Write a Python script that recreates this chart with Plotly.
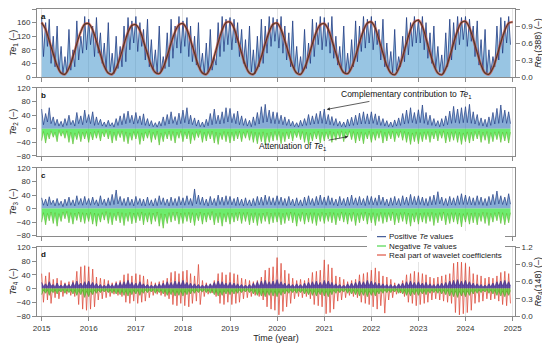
import pandas as pd
import plotly.graph_objects as go

# ---------------- data (half-monthly samples, 24 per year, 2015-2024) ----------------
te1_pos = [
    175,60,160,90,170,40,120,30,150,20,90,10,60,15,140,20,80,30,165,50,120,70,178,80,      # 2015
    170,95,150,60,175,70,130,40,100,20,160,15,70,10,120,25,90,30,150,45,175,80,165,100,    # 2016
    178,75,160,90,140,50,170,30,110,20,80,12,150,15,60,25,130,30,170,55,150,85,178,70,     # 2017
    165,90,175,60,150,45,120,35,160,20,70,10,100,15,140,20,60,35,160,60,178,75,170,95,     # 2018
    175,80,170,100,160,60,140,40,110,25,150,15,80,10,120,30,170,40,150,70,178,90,175,105,  # 2019
    170,85,178,70,150,50,130,30,165,20,90,12,60,15,140,25,100,40,170,60,160,95,178,80,     # 2020
    175,90,160,70,178,55,120,35,90,20,150,10,70,15,110,30,165,45,150,75,178,85,170,100,    # 2021
    178,80,165,95,140,50,170,30,100,20,75,12,140,18,60,30,120,45,175,65,160,90,178,100,    # 2022
    170,100,178,80,160,55,130,40,150,25,90,15,65,10,130,30,170,50,160,80,178,95,175,110,   # 2023
    178,90,170,105,150,60,165,35,110,20,140,12,80,15,60,30,150,50,175,70,165,100,178,95,   # 2024
]

# monthly real part of wavelet coefficients Re1(388), Jan 2015 .. Jan 2025
re1 = [
    0.96,0.84,0.64,0.41,0.20,0.07,0.05,0.16,0.36,0.59,0.80,0.93,
    0.94,0.83,0.63,0.40,0.19,0.07,0.05,0.16,0.35,0.58,0.79,0.91,
    0.92,0.82,0.63,0.41,0.20,0.08,0.06,0.17,0.37,0.60,0.80,0.92,
    0.94,0.84,0.65,0.42,0.20,0.07,0.05,0.16,0.37,0.61,0.83,0.96,
    0.97,0.86,0.66,0.42,0.20,0.07,0.05,0.16,0.36,0.59,0.80,0.93,
    0.95,0.84,0.64,0.41,0.20,0.07,0.05,0.16,0.36,0.59,0.80,0.92,
    0.94,0.84,0.65,0.42,0.21,0.08,0.06,0.17,0.37,0.61,0.82,0.95,
    0.97,0.86,0.66,0.42,0.20,0.07,0.04,0.15,0.36,0.60,0.83,0.97,
    1.00,0.89,0.68,0.43,0.21,0.07,0.04,0.15,0.36,0.60,0.82,0.96,
    0.98,0.87,0.67,0.43,0.21,0.07,0.05,0.16,0.37,0.61,0.82,0.95,
    0.97,
]

te2_pos = [
    58,12,45,20,62,15,35,10,28,8,22,6,30,10,40,12,25,8,48,15,38,12,55,18,
    42,15,50,10,35,12,28,8,20,6,25,8,18,5,30,10,38,12,45,15,52,18,40,14,
    48,16,38,12,44,10,30,8,24,6,18,5,22,8,35,10,42,14,50,16,36,12,46,15,
    55,18,62,14,40,12,32,8,26,6,20,5,28,9,45,12,58,15,40,14,50,16,62,20,
    60,18,45,15,52,12,38,10,30,8,25,6,35,10,48,14,65,18,72,20,55,16,50,15,
    48,15,40,12,35,10,28,8,22,6,18,5,25,8,30,10,42,12,38,14,45,15,52,16,
    58,14,42,12,36,10,30,8,22,6,20,5,28,8,34,10,40,12,46,14,50,15,44,14,
    50,16,44,12,38,10,30,8,24,6,20,5,26,8,32,10,45,14,55,16,62,18,48,15,
    56,18,70,16,48,12,40,10,30,8,24,6,30,8,38,12,52,16,66,18,58,16,62,18,
    65,18,72,16,50,14,42,10,32,8,28,6,35,10,48,14,60,16,70,18,55,16,50,15,
]
te2_neg = [
    -35,-8,-42,-12,-30,-6,-25,-10,-38,-5,-22,-8,-28,-6,-40,-10,-45,-12,-32,-8,-38,-10,-30,-8,
    -40,-10,-33,-8,-28,-6,-36,-9,-24,-5,-30,-7,-42,-10,-35,-8,-26,-6,-38,-9,-44,-12,-34,-8,
    -30,-8,-46,-12,-36,-9,-28,-6,-40,-10,-32,-7,-48,-12,-38,-9,-30,-7,-35,-8,-42,-10,-28,-6,
    -38,-9,-30,-7,-44,-11,-34,-8,-26,-6,-40,-10,-36,-8,-30,-7,-42,-10,-46,-12,-32,-8,-38,-9,
    -42,-10,-36,-8,-30,-7,-38,-9,-28,-6,-34,-8,-40,-10,-44,-11,-38,-9,-48,-12,-40,-10,-36,-8,
    -34,-8,-44,-11,-38,-9,-30,-7,-36,-8,-26,-6,-32,-8,-40,-10,-46,-12,-36,-9,-30,-7,-42,-10,
    -36,-9,-30,-7,-40,-10,-34,-8,-28,-6,-38,-9,-24,-6,-32,-8,-42,-10,-36,-9,-44,-11,-30,-7,
    -40,-10,-34,-8,-28,-6,-42,-10,-36,-8,-30,-7,-38,-9,-26,-6,-34,-8,-40,-10,-46,-12,-38,-9,
    -44,-11,-38,-9,-32,-8,-40,-10,-30,-7,-36,-8,-28,-6,-42,-10,-38,-9,-34,-8,-40,-10,-46,-12,
    -38,-9,-42,-10,-36,-8,-30,-7,-40,-10,-34,-8,-44,-11,-38,-9,-32,-8,-40,-10,-36,-9,-42,-10,
]

te3_pos = [
    32,10,28,8,35,12,25,8,30,10,22,6,28,9,34,10,26,8,38,12,30,10,36,12,
    30,10,34,12,26,8,38,12,28,9,32,10,42,12,55,14,36,10,30,9,34,10,28,8,
    36,12,30,9,28,8,34,10,26,8,30,9,38,12,32,10,28,8,34,10,30,9,36,11,
    32,10,38,12,30,9,58,14,40,12,34,10,28,8,36,11,30,9,40,12,34,10,38,12,
    36,11,30,9,34,10,28,8,32,10,26,8,30,9,36,11,34,10,40,12,36,11,32,10,
    38,12,34,10,30,9,36,11,28,8,32,10,26,8,34,10,38,12,30,9,36,11,40,12,
    34,10,38,12,32,10,28,8,36,11,30,9,34,10,40,12,32,10,36,11,30,9,38,12,
    36,11,32,10,40,12,34,10,28,8,32,10,36,11,30,9,38,12,34,10,42,12,36,11,
    38,12,34,10,30,9,36,11,40,12,50,14,34,10,30,9,36,11,32,10,38,12,44,12,
    40,12,36,11,32,10,38,12,34,10,30,9,36,11,42,12,52,14,38,12,34,10,44,13,
]
te3_neg = [
    -40,-12,-48,-14,-36,-10,-44,-12,-52,-15,-38,-10,-30,-8,-42,-12,-46,-13,-35,-10,-40,-12,-44,-13,
    -38,-11,-46,-13,-52,-15,-40,-12,-34,-9,-44,-12,-48,-14,-36,-10,-42,-12,-50,-14,-38,-11,-45,-13,
    -42,-12,-36,-10,-48,-14,-40,-12,-46,-13,-38,-10,-52,-15,-58,-16,-44,-12,-40,-11,-36,-10,-46,-13,
    -44,-12,-38,-11,-42,-12,-50,-14,-36,-10,-46,-13,-40,-12,-34,-9,-48,-14,-42,-12,-52,-15,-40,-12,
    -46,-13,-40,-12,-36,-10,-44,-12,-38,-11,-48,-14,-42,-12,-50,-14,-44,-13,-38,-11,-46,-13,-42,-12,
    -40,-12,-48,-14,-44,-12,-36,-10,-42,-12,-52,-15,-38,-11,-46,-13,-40,-12,-44,-12,-50,-14,-38,-11,
    -44,-13,-38,-11,-42,-12,-48,-14,-36,-10,-40,-12,-46,-13,-38,-11,-50,-14,-42,-12,-36,-10,-46,-13,
    -42,-12,-50,-14,-38,-11,-44,-12,-40,-12,-36,-10,-48,-14,-42,-12,-38,-11,-46,-13,-52,-15,-40,-12,
    -46,-13,-40,-12,-44,-12,-38,-11,-50,-14,-42,-12,-36,-10,-48,-14,-44,-12,-40,-12,-46,-13,-54,-15,
    -40,-12,-46,-13,-42,-12,-48,-14,-38,-11,-44,-12,-50,-14,-40,-12,-36,-10,-44,-12,-48,-14,-42,-12,
]

te4_pos = [
    18,6,14,5,20,7,12,4,16,5,10,4,14,5,12,4,18,6,22,7,16,6,20,7,
    22,7,18,6,15,5,12,4,10,4,14,5,12,4,16,5,18,6,20,7,24,8,18,6,
    16,5,20,7,14,5,12,4,10,4,12,4,14,5,16,5,20,6,18,6,22,7,20,7,
    24,8,18,6,16,5,14,5,12,4,10,4,12,4,14,5,18,6,22,7,20,7,16,5,
    18,6,16,5,14,5,12,4,10,4,12,4,16,5,20,6,22,7,24,8,20,7,22,7,
    26,8,20,7,16,5,14,5,12,4,14,5,12,4,16,5,18,6,20,7,22,7,18,6,
    24,8,22,7,18,6,14,5,12,4,10,4,14,5,16,5,18,6,22,7,20,7,24,8,
    22,7,18,6,16,5,14,5,12,4,12,4,10,4,14,5,16,5,20,7,22,7,18,6,
    20,7,16,5,18,6,14,5,12,4,14,5,16,5,18,6,22,7,24,8,26,8,22,7,
    24,8,20,7,16,5,14,5,12,4,10,4,14,5,16,5,20,7,22,7,24,8,20,7,
]
te4_neg = [
    -18,-5,-14,-4,-20,-6,-12,-4,-16,-5,-10,-3,-14,-4,-12,-4,-16,-5,-20,-6,-18,-5,-26,-8,
    -24,-7,-18,-5,-14,-4,-12,-4,-10,-3,-12,-4,-14,-4,-16,-5,-18,-5,-20,-6,-22,-7,-18,-5,
    -16,-5,-20,-6,-14,-4,-12,-4,-10,-3,-14,-4,-12,-4,-16,-5,-20,-6,-18,-5,-22,-7,-20,-6,
    -22,-7,-18,-5,-16,-5,-14,-4,-12,-4,-10,-3,-12,-4,-14,-4,-18,-5,-22,-7,-20,-6,-16,-5,
    -18,-5,-16,-5,-14,-4,-12,-4,-10,-3,-12,-4,-16,-5,-20,-6,-22,-7,-24,-7,-20,-6,-22,-7,
    -24,-7,-20,-6,-16,-5,-14,-4,-12,-4,-14,-4,-12,-4,-16,-5,-18,-5,-20,-6,-22,-7,-18,-5,
    -22,-7,-24,-7,-18,-5,-14,-4,-12,-4,-10,-3,-14,-4,-16,-5,-18,-5,-22,-7,-20,-6,-24,-7,
    -20,-6,-22,-7,-16,-5,-14,-4,-12,-4,-12,-4,-10,-3,-14,-4,-16,-5,-20,-6,-22,-7,-18,-5,
    -20,-6,-16,-5,-18,-5,-14,-4,-12,-4,-14,-4,-16,-5,-18,-5,-22,-7,-24,-7,-26,-8,-22,-7,
    -24,-7,-20,-6,-16,-5,-14,-4,-12,-4,-10,-3,-14,-4,-16,-5,-20,-6,-22,-7,-24,-7,-20,-6,
]

# real part of wavelet coefficients Re4(148), half-monthly
re4 = [
    0.74,0.24,0.70,0.28,0.76,0.22,0.64,0.32,0.66,0.30,0.62,0.34,0.58,0.38,0.60,0.36,0.62,0.34,0.78,0.20,0.86,0.12,0.88,0.10,
    0.86,0.12,0.82,0.16,0.68,0.28,0.66,0.30,0.64,0.32,0.62,0.34,0.58,0.38,0.60,0.36,0.62,0.34,0.72,0.24,0.74,0.22,0.70,0.26,
    0.74,0.22,0.72,0.24,0.70,0.26,0.64,0.32,0.60,0.36,0.58,0.38,0.60,0.36,0.62,0.34,0.66,0.30,0.76,0.20,0.78,0.18,0.74,0.22,
    0.78,0.18,0.80,0.16,0.74,0.22,0.70,0.26,0.90,0.20,0.62,0.34,0.58,0.38,0.56,0.40,0.62,0.34,0.74,0.22,0.76,0.20,0.72,0.24,
    0.76,0.20,0.74,0.22,0.72,0.24,0.66,0.30,0.64,0.32,0.62,0.34,0.60,0.36,0.62,0.34,0.68,0.28,0.80,0.16,0.84,0.12,0.86,0.10,
    1.02,0.02,0.92,0.08,0.80,0.16,0.74,0.22,0.66,0.30,0.62,0.34,0.64,0.32,0.62,0.34,0.66,0.30,0.76,0.20,0.78,0.18,0.80,0.16,
    0.98,0.04,0.90,0.06,0.84,0.12,0.70,0.26,0.68,0.28,0.64,0.32,0.60,0.36,0.62,0.34,0.64,0.32,0.72,0.24,0.74,0.22,0.76,0.20,
    0.80,0.16,0.84,0.12,0.78,0.18,0.70,0.05,0.68,0.28,0.64,0.32,0.58,0.38,0.56,0.40,0.62,0.34,0.72,0.24,0.74,0.22,0.78,0.18,
    0.76,0.20,0.74,0.22,0.72,0.24,0.68,0.28,0.66,0.30,0.68,0.28,0.70,0.26,0.72,0.24,0.74,0.22,0.92,0.06,0.96,0.02,0.94,0.04,
    0.92,0.06,0.86,0.10,0.74,0.22,0.72,0.24,0.70,0.26,0.66,0.30,0.68,0.28,0.66,0.30,0.70,0.26,0.76,0.20,0.78,0.18,0.74,0.22,
]

years = list(range(2015, 2026))
year_labels = [str(y) for y in years]
legend_labels = ["Positive <i>Te</i> values", "Negative <i>Te</i> values",
                 "Real part of wavelet coefficients"]

# ---------------- figure ----------------
half_month = pd.date_range("2015-01-01", periods=len(te1_pos), freq="SMS")
monthly = pd.date_range("2015-01-01", periods=len(re1), freq="MS")

FONT = "Liberation Sans, Arial, sans-serif"
NAVY = "#1f3c84"
GREEN = "#2ccf2c"
RED = "#d8321f"
AX = "#8a8a8a"

fig = go.Figure()

# panel a
fig.add_trace(go.Scatter(x=half_month, y=te1_pos, mode="lines", xaxis="x", yaxis="y",
                         line=dict(color=NAVY, width=0.8), fill="tozeroy",
                         fillcolor="rgba(50,140,200,0.5)", showlegend=False))
fig.add_trace(go.Scatter(x=monthly, y=re1, mode="lines", xaxis="x", yaxis="y2",
                         line=dict(color="rgba(215,55,40,0.65)", width=2.6, shape="spline"),
                         showlegend=False))
fig.add_trace(go.Scatter(x=monthly, y=re1, mode="lines", xaxis="x", yaxis="y2",
                         line=dict(color="#4a3a26", width=1.1, shape="spline"),
                         showlegend=False))

# panel b
fig.add_trace(go.Scatter(x=half_month, y=te2_pos, mode="lines", xaxis="x2", yaxis="y3",
                         line=dict(color=NAVY, width=0.7), fill="tozeroy",
                         fillcolor="rgba(55,115,185,0.6)", showlegend=False))
fig.add_trace(go.Scatter(x=half_month, y=te2_neg, mode="lines", xaxis="x2", yaxis="y3",
                         line=dict(color="#58b82a", width=0.6), fill="tozeroy",
                         fillcolor="rgba(60,230,60,0.75)", showlegend=False))

# panel c
fig.add_trace(go.Scatter(x=half_month, y=te3_pos, mode="lines", xaxis="x3", yaxis="y4",
                         line=dict(color=NAVY, width=0.7), fill="tozeroy",
                         fillcolor="rgba(55,115,185,0.6)", showlegend=False))
fig.add_trace(go.Scatter(x=half_month, y=te3_neg, mode="lines", xaxis="x3", yaxis="y4",
                         line=dict(color="#58b82a", width=0.6), fill="tozeroy",
                         fillcolor="rgba(60,230,60,0.75)", showlegend=False))

# panel d: wavelet on base (right) axis, Te on overlaying (left) axis
fig.add_trace(go.Scatter(x=half_month, y=re4, mode="lines", xaxis="x4", yaxis="y5",
                         line=dict(color=RED, width=0.8), opacity=0.85, showlegend=False))
fig.add_trace(go.Scatter(x=half_month, y=te4_pos, mode="lines", xaxis="x4", yaxis="y6",
                         line=dict(color="#3b2f8c", width=0.6), fill="tozeroy",
                         fillcolor="rgba(70,55,160,0.85)", showlegend=False))
fig.add_trace(go.Scatter(x=half_month, y=te4_neg, mode="lines", xaxis="x4", yaxis="y6",
                         line=dict(color="#5a9a2a", width=0.6), fill="tozeroy",
                         fillcolor="rgba(80,200,40,0.8)", showlegend=False))

xrange = ["2014-11-26", "2025-01-19"]
tickvals = [f"{y}-01-01" for y in years]

def xax(anchor, labels=False, title=None):
    d = dict(type="date", range=xrange, anchor=anchor, domain=[0, 1], automargin=False,
             tickvals=tickvals, ticktext=year_labels, showticklabels=labels,
             showgrid=True, gridcolor="#e4e4e4", gridwidth=0.8,
             showline=True, linecolor=AX, linewidth=1, mirror=True,
             ticks="outside", ticklen=4, tickcolor=AX,
             tickfont=dict(size=8, color="#333"), zeroline=False)
    if title:
        d["title"] = dict(text=title, font=dict(size=9, color="#222"), standoff=2)
    return d

def yax(domain, rng, dtick, title, side="left", overlaying=None, anchor=None,
        mirror=False, fmt=None, standoff=4):
    d = dict(range=rng, dtick=dtick, tick0=0, side=side, showgrid=False, zeroline=False,
             automargin=False,
             showline=True, linecolor=AX, linewidth=1, mirror=mirror,
             ticks="outside", ticklen=4, tickcolor=AX,
             tickfont=dict(size=8, color="#333"),
             title=dict(text=title, font=dict(size=9, color="#222"), standoff=standoff))
    if domain is not None:
        d["domain"] = domain
    if overlaying:
        d["overlaying"] = overlaying
    if anchor:
        d["anchor"] = anchor
    if fmt:
        d["tickformat"] = fmt
    return d

dom_a = [0.7785, 1.0]
dom_b = [0.5212, 0.7427]
dom_c = [0.2616, 0.4821]
dom_d = [0.0, 0.2238]

# the page body adds an 8 px offset, so the figure is 8 px smaller and margins shifted
fig.update_layout(
    width=542, height=340,
    margin=dict(l=29, r=35, t=1, b=32),
    paper_bgcolor="white", plot_bgcolor="white",
    font=dict(family=FONT, size=8, color="#222"),
    showlegend=False,
    xaxis=xax("y"),
    xaxis2=xax("y3"),
    xaxis3=xax("y4"),
    xaxis4=xax("y5", labels=True, title="Time (year)"),
    yaxis=yax(dom_a, [0, 200], 40, "<i>Te</i><sub>1</sub> (–)", anchor="x"),
    yaxis2=yax(None, [0, 1.2], 0.3, "<i>Re</i><sub>1</sub>(388) (–)", side="right",
               overlaying="y", anchor="x", fmt=".1f", standoff=1),
    yaxis3=yax(dom_b, [-80, 120], 40, "<i>Te</i><sub>2</sub> (–)", anchor="x2", mirror=True),
    yaxis4=yax(dom_c, [-80, 120], 40, "<i>Te</i><sub>3</sub> (–)", anchor="x3", mirror=True),
    yaxis5=yax(dom_d, [0, 1.2], 0.3, "<i>Re</i><sub>4</sub>(148) (–)", side="right",
               anchor="x4", fmt=".1f", standoff=1),
    yaxis6=yax(None, [-80, 120], 40, "<i>Te</i><sub>4</sub> (–)", side="left",
               overlaying="y5", anchor="x4"),
)

# panel letters
for letter, xr, yr in [("a", "x", "y"), ("b", "x2", "y3"), ("c", "x3", "y4"), ("d", "x4", "y5")]:
    fig.add_annotation(text=f"<b>{letter}</b>", xref=f"{xr} domain", yref=f"{yr} domain",
                       x=0.004, y=0.99, xanchor="left", yanchor="top", showarrow=False,
                       font=dict(size=8, color="#111"))

# panel b callouts
fig.add_annotation(text="Complementary contribution to <i>Te</i><sub>1</sub>",
                   xref="x2", yref="y3", x="2021-01-20", y=57, ax=80, ay=-15,
                   showarrow=True, arrowhead=2, arrowsize=0.8, arrowwidth=0.8,
                   arrowcolor="#333", font=dict(size=8.5, color="#111"))
fig.add_annotation(text="Attenuation of <i>Te</i><sub>1</sub>",
                   xref="x2", yref="y3", x="2021-07-05", y=-23, ax=-55, ay=10,
                   showarrow=True, arrowhead=2, arrowsize=0.8, arrowwidth=0.8,
                   arrowcolor="#333", font=dict(size=8.5, color="#111"))

# manual compact legend (positions in window pixels -> paper fraction of plot area)
def px_x(p):
    return (p - 37) / 478

def px_y(p):
    return (316 - p) / 307

fig.add_shape(type="rect", xref="paper", yref="paper", x0=px_x(367), x1=px_x(505),
              y0=px_y(262), y1=px_y(231), fillcolor="white", line=dict(width=0),
              layer="above")
leg_colors = [NAVY, GREEN, RED]
leg_rows = [236.7, 246, 255]
for lab, col, row in zip(legend_labels, leg_colors, leg_rows):
    fig.add_shape(type="line", xref="paper", yref="paper", x0=px_x(377), x1=px_x(386),
                  y0=px_y(row), y1=px_y(row), line=dict(color=col, width=1), layer="above")
    fig.add_annotation(text=lab, xref="paper", yref="paper", x=px_x(387), y=px_y(row),
                       xanchor="left", yanchor="middle", showarrow=False,
                       font=dict(size=8, color="#222"))

fig.write_html("out.html")
